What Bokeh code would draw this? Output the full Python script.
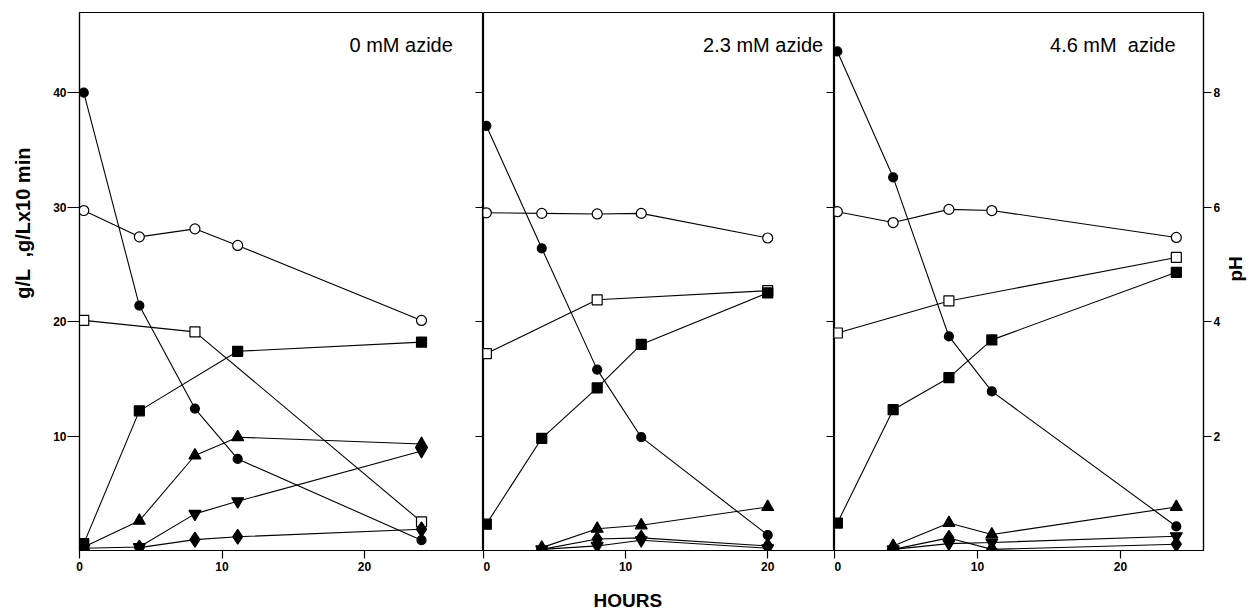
import math
from bokeh.plotting import figure
from bokeh.models import Range1d, LinearAxis, FixedTicker, Label, Title
from bokeh.layouts import row
from bokeh.embed import file_html
from bokeh.resources import INLINE

nan = float("nan")
NB = "\u00a0"

# ---------------- data ----------------
panel_titles = ["0 mM azide", "2.3 mM azide", "4.6 mM" + NB + NB + "azide"]
x_title = "HOURS"
y_title = "g/L" + NB + NB + ",g/Lx10 min"
ph_title = "pH"
x_ticks = [0, 10, 20]
y_ticks = [10, 20, 30, 40]
ph_ticks = [2, 4, 6, 8]

# 0 mM azide
hours_0 = [0.3, 4.2, 8.1, 11.1, 24.0]
glucose_0 = [40.0, 21.4, 12.4, 8.0, 0.9]
ph_0 = [5.94, 5.48, 5.62, 5.33, 4.02]
open_sq_0 = [20.1, nan, 19.1, nan, 2.5]
filled_sq_0 = [0.6, 12.2, nan, 17.4, 18.2]
tri_up_0 = [0.3, 2.6, 8.3, 9.9, 9.3]
tri_down_0 = [0.2, 0.3, 3.2, 4.3, 8.7]
diamond_0 = [nan, 0.25, 0.95, 1.2, 1.85]

# 2.3 mM azide
hours_23 = [0.2, 4.1, 8.0, 11.1, 20.0]
glucose_23 = [37.1, 26.4, 15.8, 9.9, 1.35]
ph_23 = [5.90, 5.89, 5.88, 5.89, 5.46]
open_sq_23 = [17.2, nan, 21.9, nan, 22.7]
filled_sq_23 = [2.3, 9.8, 14.2, 18.0, 22.5]
tri_up_23 = [nan, 0.25, 1.9, 2.2, 3.8]
tri_down_23 = [nan, 0.1, 0.4, 0.9, 0.2]
diamond_23 = [nan, 0.1, 1.0, 1.1, 0.4]

# 4.6 mM azide
hours_46 = [0.2, 4.1, 8.0, 11.0, 23.9]
glucose_46 = [43.6, 32.6, 18.7, 13.9, 2.1]
ph_46 = [5.92, 5.73, 5.96, 5.94, 5.47]
open_sq_46 = [19.0, nan, 21.8, nan, 25.6]
filled_sq_46 = [2.4, 12.3, 15.1, 18.4, 24.3]
tri_up_46 = [nan, 0.4, 2.4, 1.4, 3.8]
tri_down_46 = [nan, 0.1, 0.6, 0.7, 1.25]
diamond_46 = [nan, 0.1, 1.1, 0.1, 0.55]

# ---------------- styling ----------------
FONT = "Liberation Sans"
Y_END = 47.0
PH_END = Y_END / 5.0
Y_TITLE_PAD = NB * 21   # lifts the left title toward the top, as in the reference

styles = {
    "glucose": dict(marker="circle", size=9, fill="black", rng="default"),
    "ph": dict(marker="circle", size=10, fill="white", rng="ph"),
    "open_sq": dict(marker="square", size=10, fill="white", rng="default"),
    "filled_sq": dict(marker="square", size=10, fill="black", rng="default"),
    "tri_up": dict(marker="triangle", size=12, fill="black", rng="default"),
    "tri_down": dict(marker="inverted_triangle", size=12, fill="black", rng="default"),
    "diamond": dict(marker="diamond", size=15, fill="black", rng="default"),
}


def style_labels(ax):
    ax.major_label_text_font = FONT
    ax.major_label_text_font_style = "bold"
    ax.major_label_text_font_size = "12px"
    ax.major_label_text_color = "black"
    ax.minor_tick_line_color = None
    ax.axis_line_color = "black"
    ax.axis_line_width = 1.2
    ax.major_tick_line_width = 1.2


def make_panel(hours, series, title, x_end, frame_w, left_b, right_b, title_x,
               first=False, last=False):
    p = figure(frame_width=frame_w, frame_height=538,
               min_border_left=left_b, min_border_right=right_b,
               min_border_top=12, min_border_bottom=64,
               x_range=Range1d(0, x_end), y_range=Range1d(0, Y_END),
               output_backend="svg", toolbar_location=None,
               y_axis_location="left" if first else None,
               background_fill_color="white", border_fill_color="white",
               outline_line_color="black", outline_line_width=1.2)
    p.extra_y_ranges = {"ph": Range1d(0, PH_END)}
    p.xgrid.visible = False
    p.ygrid.visible = False

    xa = p.xaxis[0]
    style_labels(xa)
    xa.ticker = FixedTicker(ticks=x_ticks)
    xa.major_tick_out = 8
    xa.major_tick_in = 0
    xa.major_label_standoff = 3

    if first:
        ya = p.yaxis[0]
        style_labels(ya)
        ya.ticker = FixedTicker(ticks=y_ticks)
        ya.major_tick_out = 12
        ya.major_tick_in = 0
        ya.major_label_standoff = 1
        ya.axis_label = Y_TITLE_PAD + y_title
        ya.axis_label_text_font = FONT
        ya.axis_label_text_font_style = "bold"
        ya.axis_label_text_font_size = "20px"
        ya.axis_label_text_color = "black"
        ya.axis_label_standoff = 16

    if not last:
        # tick marks of the next panel's left axis, pointing into this panel
        ra = LinearAxis(ticker=FixedTicker(ticks=y_ticks), major_tick_in=8,
                        major_tick_out=0, major_label_standoff=0,
                        major_label_overrides={t: "" for t in y_ticks})
        style_labels(ra)
        p.add_layout(ra, "right")
    else:
        pa = LinearAxis(y_range_name="ph", ticker=FixedTicker(ticks=ph_ticks),
                        major_tick_out=8, major_tick_in=0,
                        major_label_standoff=2,
                        axis_label=ph_title, axis_label_text_font=FONT,
                        axis_label_text_font_style="bold",
                        axis_label_text_font_size="19px",
                        axis_label_text_color="black",
                        axis_label_standoff=12)
        style_labels(pa)
        try:
            pa.axis_label_orientation = math.pi / 2
        except Exception:
            pass
        p.add_layout(pa, "right")

    for key, vals in series.items():
        st = styles[key]
        xs = [h for h, v in zip(hours, vals) if not math.isnan(v)]
        ys = [v for v in vals if not math.isnan(v)]
        p.line(xs, ys, line_color="black", line_width=1.1, y_range_name=st["rng"])
        p.scatter(xs, ys, marker=st["marker"], size=st["size"],
                  fill_color=st["fill"], line_color="black", line_width=1.2,
                  y_range_name=st["rng"])

    p.add_layout(Label(x=title_x, y=44.2, text=title, text_align="right",
                       text_baseline="middle", text_font=FONT,
                       text_font_size="20px", text_color="black"))
    return p


p1 = make_panel(hours_0, dict(glucose=glucose_0, ph=ph_0, open_sq=open_sq_0,
                              filled_sq=filled_sq_0, tri_up=tri_up_0,
                              tri_down=tri_down_0, diamond=diamond_0),
                panel_titles[0], 28.35, 404, 79, 0, 26.2, first=True)
p2 = make_panel(hours_23, dict(glucose=glucose_23, ph=ph_23, open_sq=open_sq_23,
                               filled_sq=filled_sq_23, tri_up=tri_up_23,
                               tri_down=tri_down_23, diamond=diamond_23),
                panel_titles[1], 24.7, 351, 0, 0, 23.9)
p3 = make_panel(hours_46, dict(glucose=glucose_46, ph=ph_46, open_sq=open_sq_46,
                               filled_sq=filled_sq_46, tri_up=tri_up_46,
                               tri_down=tri_down_46, diamond=diamond_46),
                panel_titles[2], 25.8, 369, 0, 53, 23.85, last=True)

p2.add_layout(Title(text=x_title, align="left", offset=110, standoff=28,
                    text_font=FONT, text_font_size="19px",
                    text_font_style="bold", text_color="black"), "below")

layout = row(p1, p2, p3, spacing=0)
open("out.html", "w").write(file_html(layout, INLINE))
